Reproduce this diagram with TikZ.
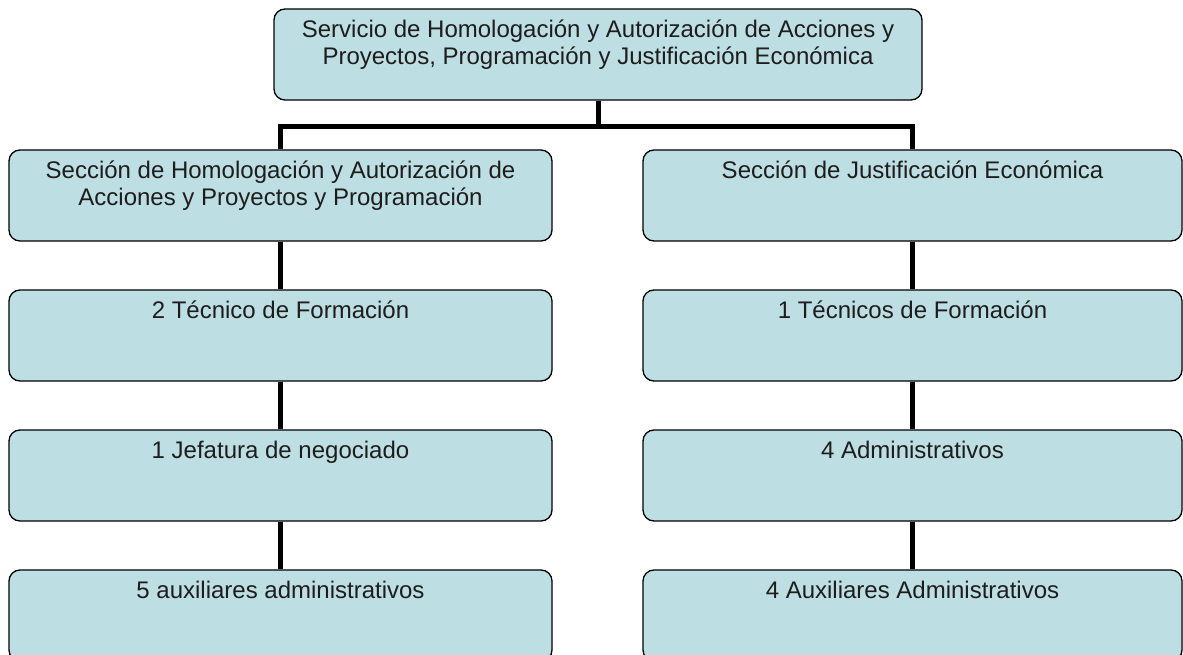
\documentclass[tikz,border=0pt]{standalone}
\usepackage{fontspec}
\setmainfont{Liberation Sans}
\usetikzlibrary{positioning}
\definecolor{boxfill}{RGB}{189,223,227}
\definecolor{boxtext}{RGB}{30,28,28}
\tikzset{
  orgbox/.style={draw=black, line width=1.3pt, fill=boxfill, rounded corners=11pt,
    minimum height=91pt, inner sep=0pt},
  orgtext/.style={font=\fontsize{24}{26.5}\selectfont, text=boxtext, align=center, inner sep=0pt},
  link/.style={line width=5pt},
}

\begin{document}
\begin{tikzpicture}[x=1pt,y=-1pt]
  \useasboundingbox (0,0) rectangle (1183,655);
  \clip (0,0) rectangle (1183,655);

  % boxes
  \node[orgbox, minimum width=648pt] (serv) at (598,54.5) {};
  \foreach \row/\y in {1/195.5, 2/335.5, 3/475.5, 4/615.5} {
    \node[orgbox, minimum width=543pt] (left\row) at (280.5,\y) {};
    \node[orgbox, minimum width=539pt] (right\row) at (912.5,\y) {};
  }

  % links
  \coordinate (fork) at (598,126.5);
  \draw[link] (serv.south) -- (fork);
  \draw[link] (left1.north) |- (fork) -| (right1.north);
  \foreach \a/\b in {1/2, 2/3, 3/4} {
    \draw[link] (left\a.south) -- (left\b.north);
    \draw[link] (right\a.south) -- (right\b.north);
  }

  % texts
  \node[orgtext, below=10.5pt of serv.north] (servtxt)
    {\strut Servicio de Homologación y Autorización de Acciones y\\Proyectos, Programación y Justificación Económica};
  \foreach \row/\ltxt/\rtxt in {
      1/{Sección de Homologación y Autorización de\\Acciones y Proyectos y Programación}/{Sección de Justificación Económica},
      2/{2 Técnico de Formación}/{1 Técnicos de Formación},
      3/{1 Jefatura de negociado}/{4 Administrativos},
      4/{5 auxiliares administrativos}/{4 Auxiliares Administrativos}} {
    \node[orgtext, below=10.5pt of left\row.north] (left\row txt) {\strut\ltxt};
    \node[orgtext, below=10.5pt of right\row.north] (right\row txt) {\strut\rtxt};
  }
\end{tikzpicture}
\end{document}
